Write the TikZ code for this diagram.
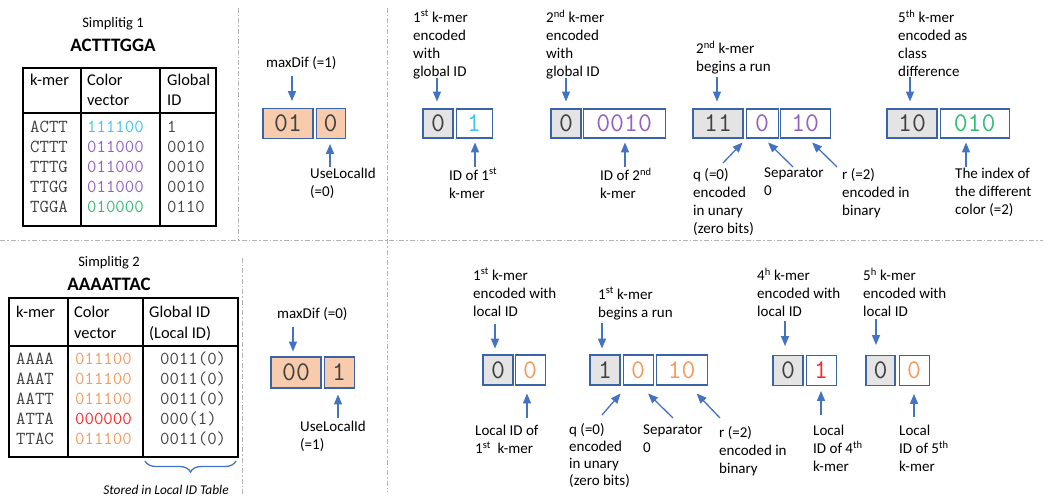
\documentclass[tikz,border=0pt]{standalone}
\usepackage{fontspec}
\setmainfont{Carlito}
\usetikzlibrary{arrows,positioning,decorations.pathreplacing}

\definecolor{arrowblue}{HTML}{4472C4}
\definecolor{boxline}{HTML}{3B64A8}
\definecolor{peach}{HTML}{F8CBAD}
\definecolor{cellgray}{HTML}{E4E4E4}
\definecolor{cyanid}{HTML}{3CC4F2}
\definecolor{purpleid}{HTML}{9360C4}
\definecolor{greenid}{HTML}{34BC74}
\definecolor{orangeid}{HTML}{F49A5C}
\definecolor{redid}{HTML}{FF2626}
\definecolor{textgray}{HTML}{404040}
\definecolor{rulegray}{HTML}{B4B4B4}

\newcommand{\lblfont}{\fontsize{15bp}{18bp}\selectfont}
\newcommand{\hdrfont}{\fontsize{16.4bp}{20bp}\selectfont}
\newcommand{\bitfont}{\fontsize{27bp}{27bp}\selectfont\ttfamily}
\newcommand{\cellfont}{\fontsize{18.3bp}{20bp}\selectfont\ttfamily}

\begin{document}
\begin{tikzpicture}[x=1bp,y=-1bp,
                    lbl/.style={anchor=north west,align=left,inner sep=0pt,font=\lblfont},
                    hdr/.style={lbl,font=\hdrfont},
                    cell/.style={anchor=base west,inner sep=0pt,font=\cellfont,text=textgray},
                    bitbox/.style={draw=boxline,line width=1.1bp,inner sep=0pt,
                                   minimum height=29bp,font=\bitfont,text=textgray},
                    graybox/.style={bitbox,fill=cellgray},
                    whitebox/.style={bitbox,fill=white},
                    peachbox/.style={bitbox,fill=peach,minimum height=30bp},
                    arr/.style={->,>=triangle 45,draw=arrowblue,line width=1.3bp},
                    tabline/.style={line width=1.2bp},
                    divider/.style={draw=rulegray,line width=1bp,
                                    dash pattern=on 5bp off 2bp on 1.5bp off 2bp}]
\useasboundingbox (0,0) rectangle (1049,500);

% dividers
\draw[divider] (238,8) -- (238,240);
\draw[divider] (242,258) -- (242,495);
\draw[divider] (387,8) -- (387,492);
\draw[divider] (0,241) -- (1043,241);

% simplitig 1 table
\node[font=\fontsize{14.5bp}{16bp}\selectfont] (simp1) at (113,24) {Simplitig 1};
\node[font=\fontsize{19bp}{20bp}\selectfont\bfseries] (seq1) at (113,45) {ACTTTGGA};
\draw[tabline] (23,68) rectangle (216,226) (81,68) -- (81,226) (160,68) -- (160,226)
               (23,113) -- (216,113);
\node[hdr] (h11) at (30,74) {k-mer};
\node[hdr] (h12) at (87,74) {Color\\vector};
\node[hdr] (h13) at (167,74) {Global\\ID};
\foreach \km/\col/\cv/\gid [count=\i] in {ACTT/cyanid/111100/1,CTTT/purpleid/011000/0010,
    TTTG/purpleid/011000/0010,TTGG/purpleid/011000/0010,TGGA/greenid/010000/0110}{
  \node[cell] at (30,127+20*\i-20+5.5) {\km};
  \node[cell,text=\col] at (87,127+20*\i-20+5.5) {\cv};
  \node[cell] at (167,127+20*\i-20+5.5) {\gid};
}

% simplitig 2 table
\node[font=\fontsize{14.5bp}{16bp}\selectfont] (simp2) at (109,263) {Simplitig 2};
\node[font=\fontsize{19bp}{20bp}\selectfont\bfseries] (seq2) at (109,284) {AAAATTAC};
\draw[tabline] (9,298) rectangle (238,457) (68,298) -- (68,457) (143,298) -- (143,457)
               (9,346) -- (238,346);
\node[hdr] (h21) at (16,306) {k-mer};
\node[hdr,font=\fontsize{16.4bp}{21bp}\selectfont] (h22) at (74,306) {Color\\vector};
\node[hdr,font=\fontsize{16.4bp}{21bp}\selectfont] (h23) at (149,306) {Global ID\\(Local ID)};
\foreach \km/\col/\cv/\gid [count=\i] in {AAAA/orangeid/011100/0011(0),AAAT/orangeid/011100/0011(0),
    AATT/orangeid/011100/0011(0),ATTA/redid/000000/000(1),TTAC/orangeid/011100/0011(0)}{
  \node[cell] at (16,359+20*\i-20+5.5) {\km};
  \node[cell,text=\col] at (75,359+20*\i-20+5.5) {\cv};
  \node[cell] at (160,359+20*\i-20+5.5) {\gid};
}
\draw[arrowblue,line width=1.3bp,decorate,decoration={brace,amplitude=11bp}]
     (236,461) -- (145,461);
\node[font=\fontsize{13.4bp}{16bp}\selectfont\itshape] (stored) at (166,490) {Stored in Local ID Table};

% header bits
\node[peachbox,minimum width=50bp] (mxA) at (288,123.5) {01};
\node[peachbox,minimum width=29bp] (mxB) [right=2bp of mxA] {0};
\node[lbl] (maxdif1) at (266,56) {maxDif (=1)};
\node[lbl] (use1) at (310,168) {UseLocalId\\(=0)};
\node[peachbox,minimum width=50bp,minimum height=31bp] (mxC) at (296,372.5) {00};
\node[peachbox,minimum width=30bp,minimum height=31bp] (mxD) [right=2bp of mxC] {1};
\node[lbl] (maxdif2) at (277,307) {maxDif (=0)};
\node[lbl] (use2) at (300,421) {UseLocalId\\(=1)};

% simplitig 1 encoding
\node[graybox,minimum width=30bp] (g1a) at (438,123.5) {0};
\node[whitebox,minimum width=36bp,text=cyanid] (g1b) [right=2bp of g1a] {1};
\node[graybox,minimum width=30bp] (g2a) at (566,123.5) {0};
\node[whitebox,minimum width=82bp,text=purpleid] (g2b) [right=1bp of g2a] {0010};
\node[graybox,minimum width=50bp] (g3a) at (718,123.5) {11};
\node[whitebox,minimum width=32bp,text=purpleid] (g3b) [right=2bp of g3a] {0};
\node[whitebox,minimum width=50bp,text=purpleid] (g3c) [right=1bp of g3b] {10};
\node[graybox,minimum width=50bp] (g4a) at (912,123.5) {10};
\node[whitebox,minimum width=69bp,text=greenid] (g4b) [right=2bp of g4a] {010};

\node[lbl] (lab1) at (413,10) {1\textsuperscript{st} k-mer\\encoded\\with\\global ID};
\node[lbl] (lab2) at (449,168) {ID of 1\textsuperscript{st}\\k-mer};
\node[lbl] (lab3) at (546,10) {2\textsuperscript{nd} k-mer\\encoded\\with\\global ID};
\node[lbl] (lab4) at (600,168) {ID of 2\textsuperscript{nd}\\k-mer};
\node[lbl] (lab5) at (696,41) {2\textsuperscript{nd} k-mer\\begins a run};
\node[lbl] (lab6) at (693,168) {q (=0)\\encoded\\in unary\\(zero bits)};
\node[lbl] (lab7) at (764,168) {Separator\\0};
\node[lbl] (lab8) at (842,168) {r (=2)\\encoded in\\binary};
\node[lbl] (lab9) at (898,10) {5\textsuperscript{th} k-mer\\encoded as\\class\\difference};
\node[lbl] (lab10) at (955,168) {The index of\\the different\\color (=2)};

% simplitig 2 encoding
\node[graybox,minimum width=30bp,minimum height=30bp] (hA) at (498,370) {0};
\node[whitebox,minimum width=30bp,minimum height=30bp,text=orangeid] (hB) [right=1bp of hA] {0};
\node[graybox,minimum width=30bp,minimum height=30bp] (hC) at (605,370) {1};
\node[whitebox,minimum width=30bp,minimum height=30bp,text=orangeid] (hD) [right=2bp of hC] {0};
\node[whitebox,minimum width=51bp,minimum height=30bp,text=orangeid] (hE) [right=2bp of hD] {10};
\node[graybox,minimum width=30bp,minimum height=30bp] (hF) at (788,370.5) {0};
\node[whitebox,minimum width=30bp,minimum height=30bp,text=redid] (hG) [right=2bp of hF] {1};
\node[graybox,minimum width=29bp,minimum height=30bp] (hH) at (880.5,370.5) {0};
\node[whitebox,minimum width=30bp,minimum height=30bp,text=orangeid] (hI) [right=3bp of hH] {0};

\node[lbl] (lab11) at (473,268) {1\textsuperscript{st} k-mer\\encoded with\\local ID};
\node[lbl] (lab12) at (475,425) {Local ID of\\1\textsuperscript{st}\ \ k-mer};
\node[lbl] (lab13) at (598,287) {1\textsuperscript{st} k-mer\\begins a run};
\node[lbl,font=\fontsize{15bp}{17bp}\selectfont] (lab14) at (569,423) {q (=0)\\encoded\\in unary\\(zero bits)};
\node[lbl] (lab15) at (643,425) {Separator\\0};
\node[lbl] (lab16) at (719,426) {r (=2)\\encoded in\\binary};
\node[lbl] (lab17) at (757,268) {4\textsuperscript{h} k-mer\\encoded with\\local ID};
\node[lbl] (lab18) at (813,425) {Local\\ID of 4\textsuperscript{th}\\k-mer};
\node[lbl] (lab19) at (863,268) {5\textsuperscript{h} k-mer\\encoded with\\local ID};
\node[lbl] (lab20) at (899,425) {Local\\ID of 5\textsuperscript{th}\\k-mer};

% arrow tails
\coordinate (m1) at (292,76);  \coordinate (u1) at (330,167);
\coordinate (m2) at (293,327); \coordinate (u2) at (338,418);
\coordinate (a1) at (437,78);  \coordinate (b1) at (475,167);
\coordinate (a2) at (566,78);  \coordinate (b2) at (625,167);
\coordinate (a3) at (717,77);  \coordinate (a4) at (910,77);
\coordinate (b4) at (966,167);
\coordinate (q1) at (723,163); \coordinate (s1) at (793,167); \coordinate (r1) at (837,167);
\coordinate (a5) at (495,324); \coordinate (b5) at (527,418);
\coordinate (a6) at (602,323);
\coordinate (q2) at (602,415); \coordinate (s2) at (673,418); \coordinate (r2) at (720,418);
\coordinate (a7) at (785,321); \coordinate (b7) at (821,415);
\coordinate (a8) at (876,319); \coordinate (b8) at (914,417);

\draw[arr,shorten >=7bp] (m1) -- (m1 |- mxA.north);
\draw[arr,shorten >=5bp] (u1) -- (u1 |- mxB.south);
\draw[arr,shorten >=5bp] (m2) -- (m2 |- mxC.north);
\draw[arr,shorten >=6bp] (u2) -- (u2 |- mxD.south);
\draw[arr,shorten >=7bp] (a1) -- (a1 |- g1a.north);
\draw[arr,shorten >=4bp] (b1) -- (b1 |- g1b.south);
\draw[arr,shorten >=7bp] (a2) -- (a2 |- g2a.north);
\draw[arr,shorten >=4bp] (b2) -- (b2 |- g2b.south);
\draw[arr,shorten >=7bp] (a3) -- (a3 |- g3a.north);
\draw[arr,shorten >=7bp] (a4) -- (a4 |- g4a.north);
\draw[arr,shorten >=4bp] (b4) -- (b4 |- g4b.south);
\draw[arr] (q1) -- ([shift={(-1,4)}]g3a.south east);
\draw[arr] (s1) -- ([shift={(6,4)}]g3b.south);
\draw[arr] (r1) -- ([shift={(7,4)}]g3c.south);
\draw[arr,shorten >=6bp] (a5) -- (a5 |- hA.north);
\draw[arr,shorten >=8bp] (b5) -- (b5 |- hB.south);
\draw[arr,shorten >=6bp] (a6) -- (a6 |- hC.north);
\draw[arr] (q2) -- ([shift={(0,8)}]hC.south east);
\draw[arr] (s2) -- ([shift={(10,8)}]hD.south);
\draw[arr] (r2) -- ([shift={(15,8)}]hE.south);
\draw[arr,shorten >=9bp] (a7) -- (a7 |- hF.north);
\draw[arr,shorten >=5bp] (b7) -- (b7 |- hG.south);
\draw[arr,shorten >=10bp] (a8) -- (a8 |- hH.north);
\draw[arr,shorten >=8bp] (b8) -- (b8 |- hI.south);
\end{tikzpicture}
\end{document}
